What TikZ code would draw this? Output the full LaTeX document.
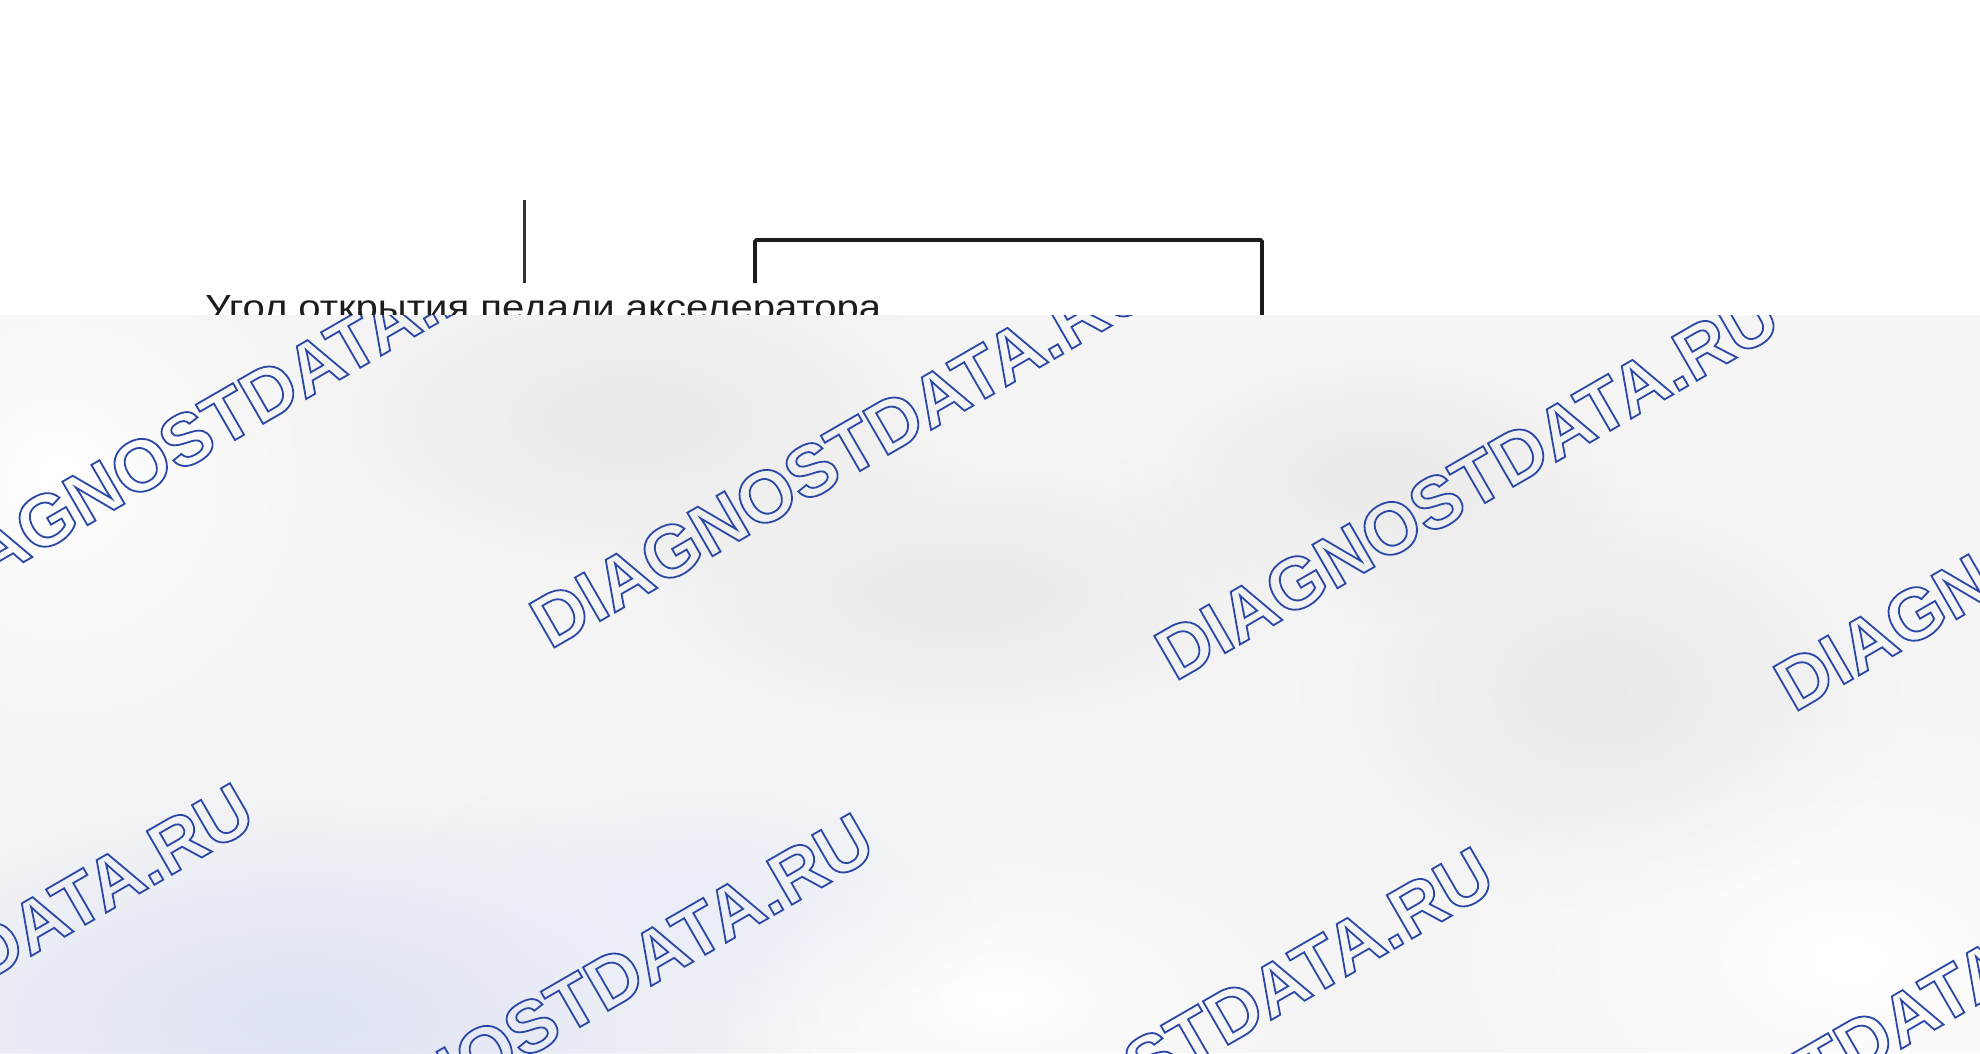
\documentclass[tikz,border=0pt]{standalone}
\usepackage{fontspec}
\setmainfont{Liberation Sans}
\usetikzlibrary{fadings}
\tikzfading[name=blobfade, inner color=transparent!0, outer color=transparent!100]
\definecolor{wmblue}{HTML}{2B48A6}
\definecolor{ovbase}{HTML}{F5F5F6}
\definecolor{blobgray}{HTML}{EAEAEB}
\definecolor{blobblue}{HTML}{DEE3F4}
\definecolor{ink}{HTML}{1C1C1C}
\tikzset{
  wm/.style={font=\fontsize{73}{80}\selectfont\bfseries, text=wmblue, inner sep=0pt,
    anchor=base west, rotate=30,
    execute at begin node={\special{pdf:literal direct 1 Tr 1.8 w}},
    execute at end node={\special{pdf:literal direct 0 Tr}}},
  blob/.style={path fading=blobfade},
  leader/.style={line width=3pt, draw=black!80},
  frame/.style={line width=3.8pt, draw=ink, rounded corners=1.5pt},
}
\begin{document}
\begin{tikzpicture}[x=1pt,y=-1pt]
\useasboundingbox (0,0) rectangle (1980,1053);
\fill[white] (0,0) rectangle (1980,1053);
% upper visible part of the diagram
\coordinate (vt) at (524,200);
\coordinate (vb) at (524,283);
\draw[leader] (vt) -- (vb);
\coordinate (bl) at (755,283);
\coordinate (tl) at (755,240);
\coordinate (tr) at (1262,240);
\coordinate (br) at (1262,340);
\draw[frame] (bl) -- (tl) -- (tr) -- (br);
\node[anchor=base west, inner sep=0pt, text=ink] (lbl) at (205,319)
  {\resizebox{676pt}{24pt}{\fontsize{34}{40}\selectfont Угол открытия педали акселератора}};
% overlay
\begin{scope}
\clip (0,315) rectangle (1980,1053);
\fill[ovbase] (0,315) rectangle (1980,1053);
\fill[white, blob] (60,480) ellipse [x radius=260, y radius=260];
\fill[white, blob] (1850,960) ellipse [x radius=420, y radius=260];
\fill[white, blob] (1000,1000) ellipse [x radius=300, y radius=150];
\fill[blobgray, blob] (631,420) ellipse [x radius=340, y radius=170];
\fill[blobgray, blob] (960,594) ellipse [x radius=360, y radius=150];
\fill[blobgray, blob] (1600,690) ellipse [x radius=300, y radius=220];
\fill[blobgray, blob] (1380,480) ellipse [x radius=260, y radius=140];
\fill[blobblue, blob] (300,1020) ellipse [x radius=520, y radius=240];
\fill[blobblue!60, blob] (700,900) ellipse [x radius=300, y radius=150];
% watermark, row 1
\node[wm] (w1) at (-75,619) {DIAGNOSTDATA.RU};
\node[wm] (w2) at (550,650) {DIAGNOSTDATA.RU};
\node[wm] (w3) at (1175,682) {DIAGNOSTDATA.RU};
\node[wm] (w4) at (1794,713) {DIAGNOSTDATA.RU};
% watermark, row 2
\node[wm] (w5) at (-350,1176) {DIAGNOSTDATA.RU};
\node[wm] (w6) at (270,1206) {DIAGNOSTDATA.RU};
\node[wm] (w7) at (890,1240) {DIAGNOSTDATA.RU};
\node[wm] (w8) at (1520,1269) {DIAGNOSTDATA.RU};
\end{scope}
\end{tikzpicture}
\end{document}
